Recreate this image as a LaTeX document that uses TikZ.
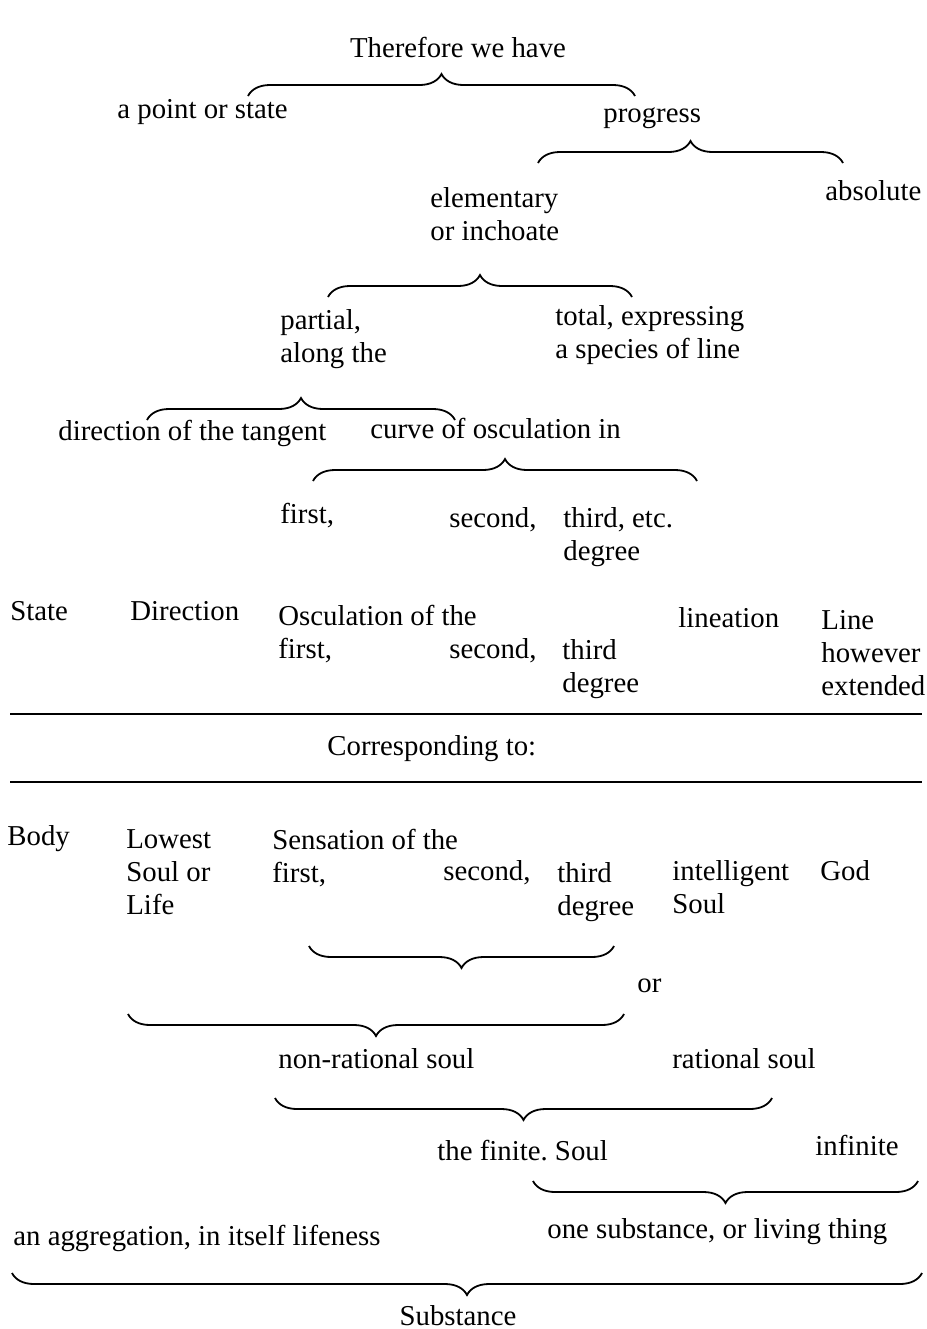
\documentclass[tikz,border=0pt]{standalone}
\usepackage{fontspec}
\setmainfont{Liberation Serif}
\frenchspacing
\usetikzlibrary{decorations.pathreplacing}

\begin{document}
\begin{tikzpicture}[x=0.5pt, y=-0.5pt,
    txt/.style={anchor=base west, inner sep=0pt, align=left, font=\fontsize{14.4}{16.5}\selectfont},
    curly/.style={decorate, decoration={brace, amplitude=11pt}, line width=0.9pt}]
    \useasboundingbox (0,0) rectangle (927,1329);

    % upper scheme (multi-line nodes sit on their last line)
    \node[txt, anchor=base] (have) at (458,57) {Therefore we have};
    \draw[curly] (248,96) -- (635,96);
    \node[txt] (point) at (117,118) {a point or state};
    \node[txt] (progress) at (603,122) {progress};
    \draw[curly] (538,163) -- (843,163);
    \node[txt] (elem) at (430,240) {elementary\\or inchoate};
    \node[txt] (absolute) at (825,200) {absolute};
    \draw[curly] (328,297) -- (632,297);
    \node[txt] (partial) at (280,362) {partial,\\along the};
    \node[txt] (total) at (555,358) {total, expressing\\a species of line};
    \draw[curly] (147,420) -- (455,420);
    \node[txt] (tangent) at (58,440) {direction of the tangent};
    \node[txt] (curve) at (370,438) {curve of osculation in};
    \draw[curly] (313,481) -- (697,481);
    \node[txt] (first) at (280,523) {first,};
    \node[txt] (second) at (449,527) {second,};
    \node[txt] (third) at (563,560) {third, etc.\\degree};

    % table of correspondence
    \node[txt] (state) at (10,620) {State};
    \node[txt] (direction) at (130,620) {Direction};
    \node[txt] (osc) at (278,658) {Osculation of the\\first,};
    \node[txt] (oscsecond) at (449,658) {second,};
    \node[txt] (oscthird) at (562,692) {third\\degree};
    \node[txt] (lineation) at (678,627) {lineation};
    \node[txt] (line) at (821,695) {Line\\however\\extended};
    \draw[line width=0.9pt] (10,714) -- (922,714);
    \node[txt] (corr) at (327,755) {Corresponding to:};
    \draw[line width=0.9pt] (10,782) -- (922,782);
    \node[txt] (body) at (7,845) {Body};
    \node[txt] (lowest) at (126,914) {Lowest\\Soul or\\Life};
    \node[txt] (sens) at (272,882) {Sensation of the\\first,};
    \node[txt] (senssecond) at (443,880) {second,};
    \node[txt] (sensthird) at (557,915) {third\\degree};
    \node[txt] (intel) at (672,913) {intelligent\\Soul};
    \node[txt] (god) at (820,880) {God};

    % lower scheme
    \draw[curly] (614,946) -- (309,946);
    \node[txt] (or) at (637,992) {or};
    \draw[curly] (624,1014) -- (128,1014);
    \node[txt] (nonrat) at (278,1068) {non-rational soul};
    \node[txt] (rat) at (672,1068) {rational soul};
    \draw[curly] (772,1098) -- (275,1098);
    \node[txt] (finite) at (437,1160) {the finite. Soul};
    \node[txt] (infinite) at (815,1155) {infinite};
    \draw[curly] (918,1181) -- (533,1181);
    \node[txt] (aggr) at (13,1245) {an aggregation, in itself lifeness};
    \node[txt] (one) at (547,1238) {one substance, or living thing};
    \draw[curly] (922,1273) -- (12,1273);
    \node[txt, anchor=base] (substance) at (458,1325) {Substance};
\end{tikzpicture}
\end{document}
